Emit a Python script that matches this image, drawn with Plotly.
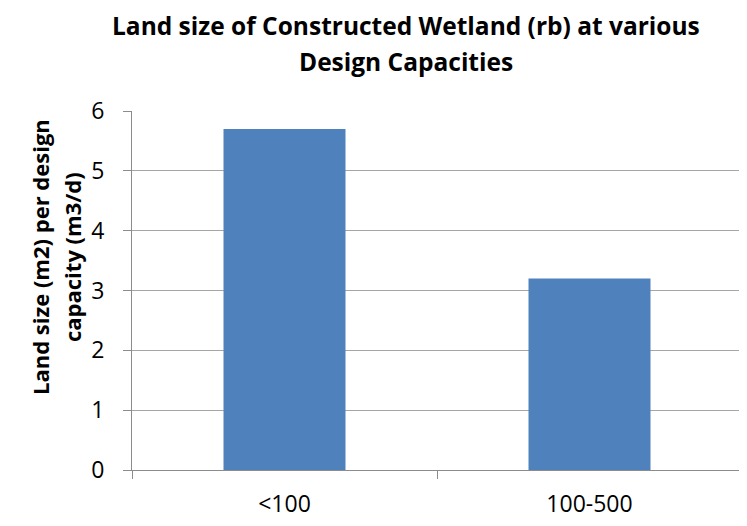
import plotly.graph_objects as go

categories = ["<100", "100-500"]
values = [5.7, 3.2]
y_ticks = [0, 1, 2, 3, 4, 5, 6]
title_lines = ["Land size of Constructed Wetland (rb) at various", "Design Capacities"]
ytitle_lines = ["Land size (m2) per design", "capacity (m3/d)"]

OFF = 8  # page body margin
W, H = 747 - OFF, 526 - OFF
L, R, T, B = 132 - OFF, 5, 111 - OFF, 56
PW, PH = W - L - R, H - T - B
FONT = "Open Sans"

fig = go.Figure(go.Bar(x=categories, y=values, marker=dict(color="#4F81BD", line=dict(width=0)),
                       width=0.4))

fig.update_layout(
    width=W, height=H, margin=dict(l=L, r=R, t=T, b=B, pad=0),
    paper_bgcolor="white", plot_bgcolor="white", showlegend=False,
    font=dict(family=FONT, color="black"),
)
fig.update_xaxes(type="category", showgrid=False, showline=True, linecolor="#8C8C8C", linewidth=1,
                 ticks="outside", tickson="boundaries", ticklen=8, tickcolor="#8C8C8C",
                 tickfont=dict(size=23, family=FONT), ticklabelstandoff=13)
fig.update_yaxes(range=[0, 6], tickvals=y_ticks, showgrid=True, gridcolor="#A6A6A6", gridwidth=1,
                 showline=True, linecolor="#8C8C8C", linewidth=1, ticks="outside", ticklen=8,
                 tickcolor="#8C8C8C", tickfont=dict(size=23, family=FONT), ticklabelstandoff=14,
                 zeroline=False)

def px_x(x):  # page x -> paper coordinate
    return (x - OFF - L) / PW

def px_y(y):  # page y -> paper coordinate
    return (H - B - (y - OFF)) / PH

anns = []
for i, t in enumerate(title_lines):
    anns.append(dict(text="<b>%s</b>" % t, xref="paper", yref="paper", x=px_x(406),
                     y=px_y(25 + 36 * i), xanchor="center", yanchor="middle",
                     showarrow=False, font=dict(size=24.5, family=FONT, color="black")))
for i, t in enumerate(ytitle_lines):
    anns.append(dict(text="<b>%s</b>" % t, xref="paper", yref="paper", x=px_x(40 + 32 * i),
                     y=px_y(257), xanchor="center", yanchor="middle", textangle=-90,
                     showarrow=False, font=dict(size=22, family=FONT, color="black")))
fig.update_layout(annotations=anns)

fig.write_html("out.html")
